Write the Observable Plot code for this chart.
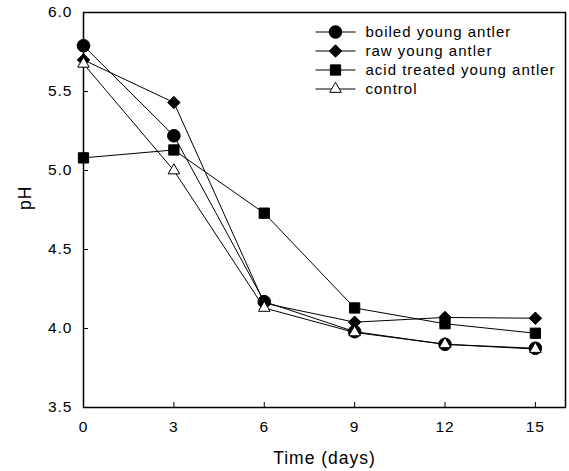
<!DOCTYPE html>
<html>
<head>
<meta charset="utf-8">
<script src="https://cdn.jsdelivr.net/npm/d3@7"></script>
<script src="https://cdn.jsdelivr.net/npm/@observablehq/plot@0.6"></script>
<style>
  html, body { margin: 0; padding: 0; background: white; }
  #chart svg text { letter-spacing: 1px; }
</style>
</head>
<body>
<div id="chart"></div>
<script>
const days = [0, 3, 6, 9, 12, 15];
const seriesNames = ["boiled young antler", "raw young antler", "acid treated young antler", "control"];
const boiled  = [5.79, 5.22, 4.17, 3.98, 3.90, 3.875];
const raw     = [5.70, 5.43, 4.16, 4.04, 4.07, 4.065];
const acid    = [5.08, 5.13, 4.73, 4.13, 4.03, 3.97];
const control = [5.675, 5.00, 4.13, 3.975, 3.90, 3.87];
const xTicks = [0, 3, 6, 9, 12, 15];
const yTicks = [3.5, 4.0, 4.5, 5.0, 5.5, 6.0];
const xLabel = "Time (days)";
const yLabel = "pH";

const seriesValues = [boiled, raw, acid, control];
const symbols = ["circle", "diamond2", "square", "triangle"];
const fills = ["black", "black", "black", "white"];
const radii = [6.3, 5.6, 5.8, 4.3];

const data = seriesNames.flatMap((name, s) =>
  days.map((d, i) => ({series: name, s, day: d, ph: seriesValues[s][i]}))
);

const lineSymbol = {draw(ctx) { ctx.moveTo(-20, 0); ctx.lineTo(20, 0); }};

const marks = [
  Plot.frame({stroke: "black", strokeWidth: 1.5}),
  Plot.axisX({ticks: xTicks, tickSize: -5, tickPadding: 18, tickFormat: d => String(d), label: null, fontSize: 15.5}),
  Plot.axisY({ticks: yTicks, tickSize: -5, tickPadding: 16, tickFormat: d3.format(".1f"), label: null, fontSize: 15.5}),
  Plot.text([xLabel], {frameAnchor: "bottom", lineAnchor: "middle", dy: 51, text: d => d, fontSize: 17.5}),
  Plot.text([yLabel], {frameAnchor: "left", lineAnchor: "middle", dx: -58, rotate: -90, text: d => d, fontSize: 17.5}),
  Plot.line(data, {x: "day", y: "ph", z: "series", stroke: "black", strokeWidth: 1})
];

seriesNames.forEach((name, s) => {
  marks.push(Plot.dot(data.filter(d => d.s === s), {
    x: "day", y: "ph", symbol: () => symbols[s], r: radii[s],
    fill: fills[s], stroke: "black", strokeWidth: 1
  }));
});

// legend
seriesNames.forEach((name, s) => {
  const dy = 19.5 + 19 * s;
  marks.push(Plot.dot([name], {frameAnchor: "top-left", dx: 252, dy, symbol: lineSymbol, r: 5, stroke: "black", strokeWidth: 1, fill: "none"}));
  marks.push(Plot.dot([name], {frameAnchor: "top-left", dx: 252, dy, symbol: () => symbols[s], r: radii[s], fill: fills[s], stroke: "black", strokeWidth: 1}));
  marks.push(Plot.text([name], {frameAnchor: "top-left", lineAnchor: "middle", dx: 282, dy, text: d => d, textAnchor: "start", fontSize: 15}));
});

const chart = Plot.plot({
  width: 569,
  height: 471,
  marginLeft: 83,
  marginRight: 4,
  marginTop: 12,
  marginBottom: 64,
  style: {fontFamily: "'Liberation Sans', Arial, sans-serif", fontSize: "15px", background: "white", color: "black"},
  x: {domain: [0, 16]},
  y: {domain: [3.5, 6.0]},
  symbol: {type: "identity"},
  marks
});
document.getElementById("chart").appendChild(chart);
</script>
</body>
</html>
